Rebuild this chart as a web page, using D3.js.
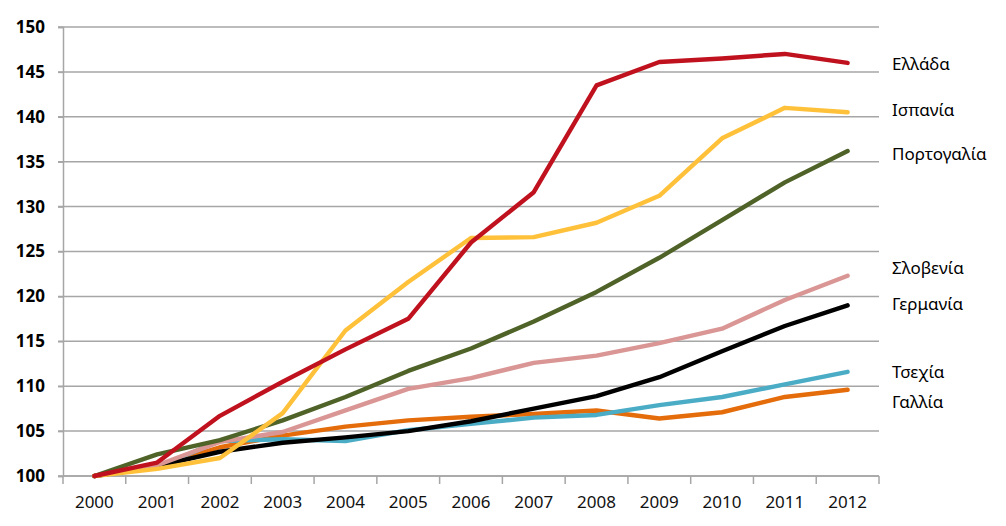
<!DOCTYPE html>
<html>
<head>
<meta charset="utf-8">
<script src="https://cdn.jsdelivr.net/npm/d3@7"></script>
<style>
  body { margin: 0; background: #fff; }
  svg { display: block; }
  .tick text { fill: #000; }
</style>
</head>
<body>
<div id="chart"></div>
<script>
// years on x, index 2000 = 100
var years = ['2000','2001','2002','2003','2004','2005','2006','2007','2008','2009','2010','2011','2012']
var yTicks = [100,105,110,115,120,125,130,135,140,145,150]

var names = ['Ελλάδα','Ισπανία','Πορτογαλία','Σλοβενία','Γερμανία','Τσεχία','Γαλλία']
var colors = ['#C0121E','#FFC13A','#4F6228','#D99694','#000000','#4BACC6','#E46C0A']

var greece   = [100,101.5,106.7,110.5,114.1,117.5,126.0,131.6,143.5,146.1,146.5,147.0,146.0]
var spain    = [100,100.8,102.0,107.0,116.2,121.6,126.5,126.6,128.2,131.2,137.6,141.0,140.5]
var portugal = [100,102.4,104.0,106.2,108.8,111.7,114.2,117.2,120.5,124.3,128.5,132.7,136.2]
var slovenia = [100,101.2,103.8,104.9,107.3,109.7,110.9,112.6,113.4,114.8,116.4,119.6,122.3]
var germany  = [100,101.1,102.7,103.7,104.3,105.0,106.1,107.5,108.9,111.0,113.9,116.7,119.0]
var czechia  = [100,101.0,103.9,104.1,103.9,105.1,105.8,106.5,106.8,107.9,108.8,110.2,111.6]
var france   = [100,101.1,103.2,104.5,105.5,106.2,106.6,106.9,107.3,106.4,107.1,108.8,109.6]

var series = [greece, spain, portugal, slovenia, germany, czechia, france]

var W = 1006, H = 526
// plot box (don't call it "top", window.top is read only)
var pl = 63, pr = 879, pt = 27, pb = 476

var svg = d3.select('#chart').append('svg')
  .attr('width', W).attr('height', H)

var x = d3.scaleBand().domain(years).range([pl, pr])
var y = d3.scaleLinear().domain([100,150]).range([pb, pt])

//horizontal grid lines
svg.append('g')
  .selectAll('line').data(yTicks).enter().append('line')
  .attr('x1', pl - 5).attr('x2', pr)
  .attr('y1', function(d){ return y(d) }).attr('y2', function(d){ return y(d) })
  .style('stroke', '#a6a6a6').style('stroke-width', '1.5px')

//y axis
var yAxis = svg.append('g')
  .attr('transform', 'translate(' + pl + ',0)')
  .call(d3.axisLeft(y).tickValues(yTicks).tickSize(5).tickPadding(13))
yAxis.select('.domain').style('stroke', '#a6a6a6').style('stroke-width', '1.5px')
yAxis.selectAll('.tick line').style('stroke', '#a6a6a6').style('stroke-width', '1.5px')
yAxis.selectAll('text')
  .style('font-family', '"Noto Sans", sans-serif')
  .style('font-size', '17px').style('font-weight', 'bold')

//x axis, ticks sit on the band edges
var xAxis = svg.append('g')
  .attr('transform', 'translate(0,' + pb + ')')
xAxis.append('line')
  .attr('x1', pl).attr('x2', pr)
  .style('stroke', '#a6a6a6').style('stroke-width', '1.5px')
xAxis.selectAll('.edge').data(years.concat(['end'])).enter().append('line')
  .attr('class', 'edge')
  .attr('x1', function(d, i){ return pl + i * x.bandwidth() })
  .attr('x2', function(d, i){ return pl + i * x.bandwidth() })
  .attr('y1', 0).attr('y2', 8)
  .style('stroke', '#a6a6a6').style('stroke-width', '1.5px')
xAxis.selectAll('text').data(years).enter().append('text')
  .attr('x', function(d){ return x(d) + x.bandwidth() / 2 })
  .attr('y', 32)
  .attr('text-anchor', 'middle')
  .style('font-family', '"Noto Sans", sans-serif')
  .style('font-size', '17px')
  .style('fill', '#111')
  .text(function(d){ return d })

//lines
var line = d3.line()
  .x(function(d, i){ return x(years[i]) + x.bandwidth() / 2 })
  .y(function(d){ return y(d) })

svg.append('g').selectAll('path').data(series.slice().reverse()).enter()
  .append('path')
  .attr('d', line)
  .attr('fill', 'none')
  .attr('stroke', function(d, i){ return colors[series.length - 1 - i] })
  .attr('stroke-width', 4.4)
  .attr('stroke-linejoin', 'round')
  .attr('stroke-linecap', 'round')

//series names on the right, nudged off the line ends
var labelShift = [1, -2, 3, -8, -1, 0, 12]
svg.append('g').selectAll('text').data(names).enter().append('text')
  .attr('x', 892)
  .attr('y', function(d, i){
    var s = series[i]
    return y(s[s.length - 1]) + labelShift[i] + 6
  })
  .style('font-family', '"Noto Sans", sans-serif')
  .style('font-size', '17px')
  .style('fill', '#000')
  .text(function(d){ return d })
</script>
</body>
</html>
